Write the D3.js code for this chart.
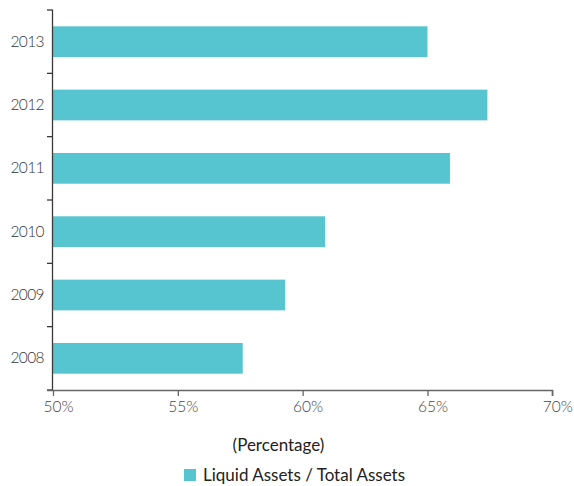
<!DOCTYPE html>
<html><head><meta charset="utf-8">
<script src="https://cdn.jsdelivr.net/npm/d3@7/dist/d3.min.js"></script>
<style>body{margin:0;background:#fff}svg{display:block}</style>
</head><body>
<script>
const years = ["2013","2012","2011","2010","2009","2008"];
const values = [65.0, 67.4, 65.9, 60.9, 59.3, 57.6];
const xTicks = [50, 55, 60, 65, 70];
const seriesName = "Liquid Assets / Total Assets";
const axisTitle = "(Percentage)";

const W = 574, H = 486;
const svg = d3.select("body").append("svg").attr("width", W).attr("height", H);
const font = "Lato, 'Gill Sans', sans-serif";
const barColor = "#57c5cf";

const x = d3.scaleLinear().domain([50, 70]).range([53, 552.3]);
const y = d3.scaleBand().domain(years).range([10, 390]).paddingInner(0.515).paddingOuter(0.2575);

// bars
svg.append("g").selectAll("rect").data(years).join("rect")
  .attr("x", x(50))
  .attr("y", d => y(d))
  .attr("width", (d, i) => x(values[i]) - x(50))
  .attr("height", y.bandwidth())
  .attr("fill", barColor);

// y axis boundaries
const step = y.step();
const bounds = d3.range(years.length + 1).map(i => 10 + i * step);
const ga = svg.append("g");
ga.append("line").attr("x1", 52.5).attr("x2", 52.5).attr("y1", 10).attr("y2", 390)
  .attr("stroke", "#3a3a3a").attr("stroke-width", 1.3);
ga.selectAll(".yt").data(bounds).join("line")
  .attr("x1", 47).attr("x2", 53).attr("y1", d => d).attr("y2", d => d)
  .attr("stroke", "#3a3a3a").attr("stroke-width", 1.3);

// x axis
const xAxis = d3.axisBottom(x).tickValues(xTicks).tickSize(6).tickFormat(d => d + "%");
const gx = svg.append("g").attr("transform", "translate(0,390)").call(xAxis);
gx.select(".domain").attr("stroke", "#666").attr("stroke-width", 1.3).attr("d", "M47,0.5H552.3V6");
gx.selectAll(".tick line").attr("stroke", "#666").attr("stroke-width", 1.3);
gx.selectAll(".tick text").attr("fill", "#444").attr("font-family", font).attr("font-size", 15.5)
  .attr("font-weight", 300)
  .attr("dx", 5).attr("dy", 0).attr("y", 21.5).style("dominant-baseline", "auto");

// year labels
svg.append("g").selectAll("text").data(years).join("text")
  .attr("x", 44).attr("y", d => y(d) + y.bandwidth() / 2 + 5)
  .attr("text-anchor", "end").attr("fill", "#333").attr("font-family", font)
  .attr("font-weight", 300)
  .attr("font-size", 15.5).attr("letter-spacing", -0.6).text(d => d);

// axis title
svg.append("text").attr("x", 278.5).attr("y", 451).attr("text-anchor", "middle")
  .attr("fill", "#222").attr("font-family", font).attr("font-size", 17).text(axisTitle);

// legend
svg.append("rect").attr("x", 184).attr("y", 469).attr("width", 12).attr("height", 12).attr("fill", barColor);
svg.append("text").attr("x", 203).attr("y", 480.5).attr("fill", "#222").attr("font-family", font)
  .attr("font-size", 17).text(seriesName);
</script>
</body></html>
